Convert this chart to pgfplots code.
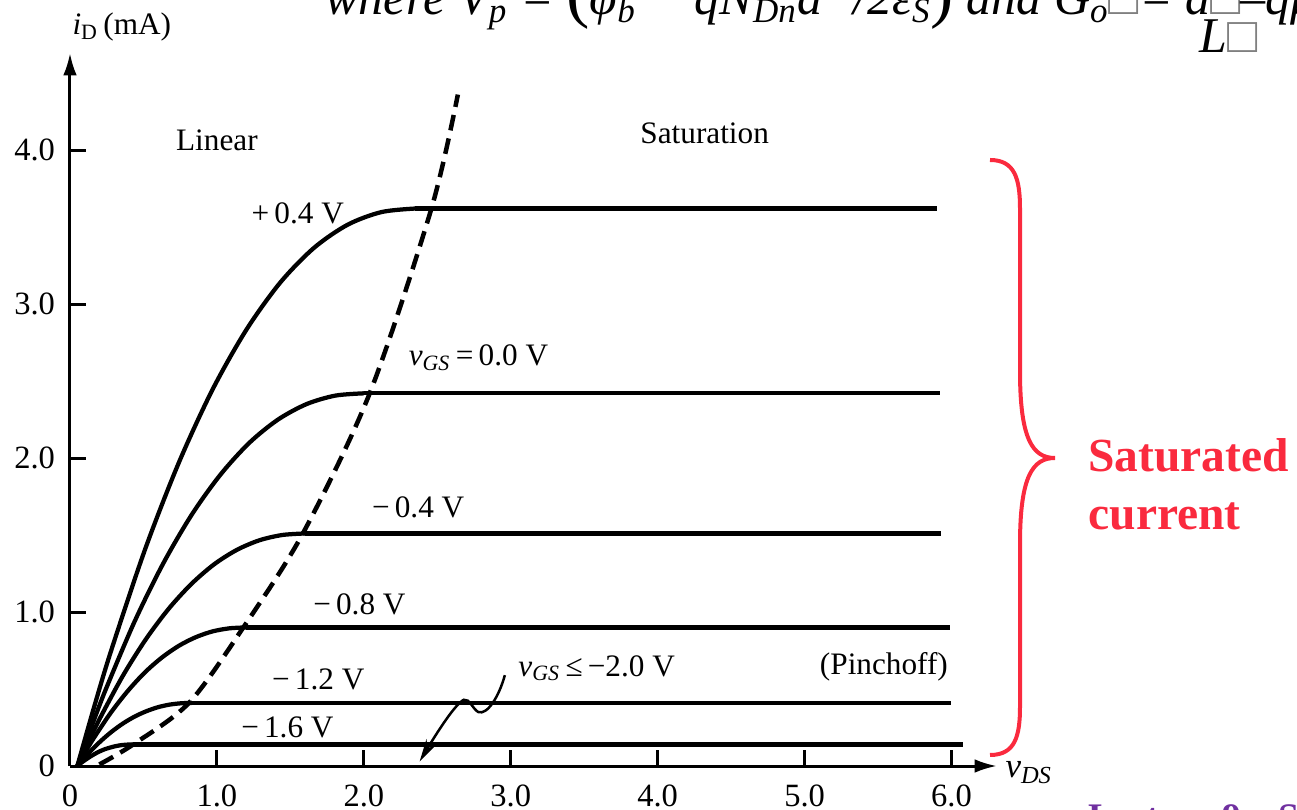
\documentclass[border=0pt]{standalone}
\usepackage{fontspec}
\setmainfont{Liberation Serif}
\usepackage{pgfplots}
\pgfplotsset{compat=1.18}
\usetikzlibrary{arrows.meta}
\definecolor{satred}{RGB}{250,42,62}
\definecolor{lecpurple}{RGB}{112,48,160}
\newcommand{\lab}{\fontsize{12.5}{12.5}\selectfont}
\begin{document}
\begin{tikzpicture}
\path[use as bounding box] (0pt,0pt) rectangle (518.8pt,323.6pt);
\begin{axis}[
  at={(28pt,17.2pt)}, anchor=south west,
  scale only axis, width=370.8pt, height=285.2pt,
  xmin=0, xmax=6.31, ymin=0, ymax=4.63,
  axis lines=left,
  axis line style={line width=1.2pt, -{Latex[length=9pt,width=5.5pt]}},
  xtick={0,1,2,3,4,5,6}, xticklabels={0,1.0,2.0,3.0,4.0,5.0,6.0},
  ytick={0,1,2,3,4}, yticklabels={0,1.0,2.0,3.0,4.0},
  tick align=inside, major tick length=6.4pt,
  tick style={line width=1.2pt, black},
  ticklabel style={font=\fontsize{13}{13}\selectfont},
  xticklabel style={yshift=-3.9pt},
  yticklabel style={xshift=-2.5pt},
  clip=false,
  every axis plot/.append style={line width=1.7pt, black, mark=none},
]
% vGS = +0.4 V
\addplot[smooth] coordinates {(0.05,0) (0.165,0.386) (0.28,0.749) (0.51,1.404) (0.74,1.968) (0.97,2.444) (1.20,2.832) (1.43,3.138) (1.66,3.364) (1.89,3.515) (2.12,3.597) (2.35,3.62)};
\addplot[sharp plot] coordinates {(2.35,3.62) (5.90,3.62)};
% vGS = 0.0 V
\addplot[smooth] coordinates {(0.05,0) (0.1475,0.258) (0.245,0.501) (0.44,0.939) (0.635,1.316) (0.83,1.634) (1.025,1.893) (1.22,2.098) (1.415,2.249) (1.61,2.350) (1.805,2.405) (2.0,2.42)};
\addplot[sharp plot] coordinates {(2.0,2.42) (5.92,2.42)};
% vGS = -0.4 V
\addplot[smooth] coordinates {(0.05,0) (0.1275,0.161) (0.205,0.312) (0.36,0.586) (0.515,0.821) (0.67,1.019) (0.825,1.181) (0.98,1.309) (1.135,1.403) (1.29,1.466) (1.445,1.500) (1.60,1.51)};
\addplot[sharp plot] coordinates {(1.60,1.51) (5.93,1.51)};
% vGS = -0.8 V
\addplot[smooth] coordinates {(0.05,0) (0.1075,0.096) (0.165,0.186) (0.28,0.349) (0.395,0.489) (0.51,0.608) (0.625,0.704) (0.74,0.780) (0.855,0.836) (0.97,0.874) (1.085,0.894) (1.20,0.90)};
\addplot[sharp plot] coordinates {(1.20,0.90) (5.99,0.90)};
% vGS = -1.2 V
\addplot[smooth] coordinates {(0.05,0) (0.089,0.044) (0.128,0.085) (0.206,0.159) (0.284,0.223) (0.362,0.277) (0.44,0.321) (0.518,0.355) (0.596,0.381) (0.674,0.398) (0.752,0.407) (0.83,0.41)};
\addplot[sharp plot] coordinates {(0.83,0.41) (6.00,0.41)};
% vGS = -1.6 V
\addplot[smooth] coordinates {(0.05,0) (0.069,0.015) (0.088,0.029) (0.126,0.054) (0.164,0.076) (0.202,0.095) (0.24,0.110) (0.278,0.121) (0.316,0.130) (0.354,0.136) (0.392,0.139) (0.43,0.14)};
\addplot[sharp plot] coordinates {(0.43,0.14) (6.08,0.14)};
% pinch-off locus
\addplot[smooth, line width=1.8pt, dash pattern=on 6.3pt off 3.3pt] coordinates {(0.2,0.01) (0.43,0.14) (0.81,0.41) (1.18,0.90) (1.585,1.51) (2.04,2.42) (2.46,3.62) (2.64,4.36)};

\node[font=\lab] at (axis cs:1.0,4.065) {Linear};
\node[font=\lab] at (axis cs:4.32,4.11) {Saturation};
\node[font=\lab] at (axis cs:1.55,3.59) {+\,0.4 V};
\node[font=\lab] at (axis cs:2.78,2.65) {\textit{v}\textsubscript{\textit{GS}}\,=\,0.0 V};
\node[font=\lab] at (axis cs:2.37,1.68) {−\,0.4 V};
\node[font=\lab] at (axis cs:1.97,1.05) {−\,0.8 V};
\node[font=\lab] at (axis cs:1.69,0.565) {−\,1.2 V};
\node[font=\lab] at (axis cs:1.48,0.253) {−\,1.6 V};
\node[font=\lab] at (axis cs:3.585,0.636) {\textit{v}\textsubscript{\textit{GS}}\,≤\,−2.0 V};
\node[font=\lab] at (axis cs:5.54,0.643) {(Pinchoff)};
\draw[line width=1pt, -{Stealth[length=9pt,width=4.5pt]}] (axis cs:2.96,0.59) .. controls (axis cs:2.92,0.45) and (axis cs:2.84,0.33) .. (axis cs:2.78,0.35) .. controls (axis cs:2.74,0.37) and (axis cs:2.72,0.44) .. (axis cs:2.68,0.43) .. controls (axis cs:2.62,0.40) and (axis cs:2.50,0.22) .. (axis cs:2.38,0.03);
\end{axis}
% axis titles
\node[anchor=base west, inner sep=0, font=\lab] at (28.8pt,309.6pt) {\textit{i}\textsubscript{D}\,(mA)};
\node[anchor=base west, inner sep=0, font=\fontsize{14}{14}\selectfont] at (402pt,12.4pt) {\textit{v}\textsubscript{\textit{DS}}};
% brace
\draw[satred, line width=1.6pt] (396pt,259.6pt) .. controls (406pt,259.6pt) and (408pt,252pt) .. (408pt,240pt) -- (408pt,175pt) .. controls (408pt,148pt) and (413pt,140.4pt) .. (422pt,140.4pt) .. controls (413pt,140.4pt) and (408pt,133pt) .. (408pt,106pt) -- (408pt,41pt) .. controls (408pt,29pt) and (406pt,21.6pt) .. (396pt,21.6pt);
\node[anchor=base west, inner sep=0, text=satred, font=\fontsize{19}{19}\selectfont\bfseries] at (435.2pt,134.8pt) {Saturated};
\node[anchor=base west, inner sep=0, text=satred, font=\fontsize{19}{19}\selectfont\bfseries] at (435.2pt,111.6pt) {current};
% cut-off formula at top
\node[anchor=base west, inner sep=0, font=\fontsize{20}{20}\selectfont\itshape] at (130pt,317.6pt) {where V\textsubscript{p} = {\fontsize{28}{28}\selectfont\upshape(}φ\textsubscript{b} − qN\textsubscript{Dn}a\textsuperscript{2} /2ε\textsubscript{S}{\fontsize{28}{28}\selectfont\upshape)} and G\textsubscript{o}\textcolor{gray}{□}= a\textcolor{gray}{□}–qμ};
\node[anchor=base west, inner sep=0, font=\fontsize{20}{20}\selectfont\itshape] at (479.6pt,302.4pt) {L\textcolor{gray}{□}};
% cut-off footer
\node[anchor=base west, inner sep=0, text=lecpurple, font=\fontsize{15}{15}\selectfont\bfseries] at (435.2pt,-8.3pt) {Lecture 9 – Slide};
\end{tikzpicture}
\end{document}
